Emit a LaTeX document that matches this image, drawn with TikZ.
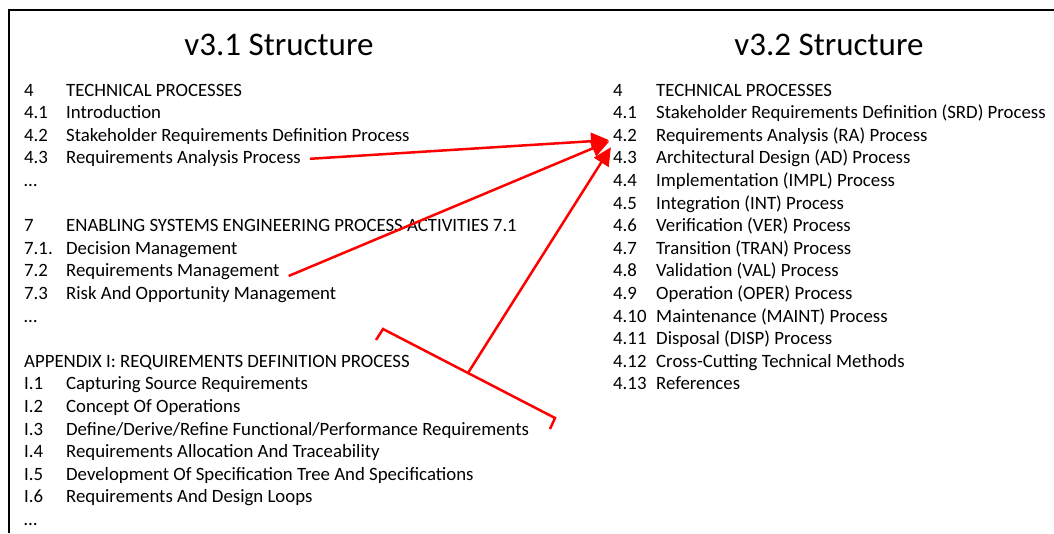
\documentclass[tikz,border=0pt]{standalone}
\usepackage{fontspec}
\setmainfont{Carlito}
\usetikzlibrary{arrows.meta}
\newcommand{\nr}[1]{\makebox[42pt][l]{#1}}
\newcommand{\nrr}[1]{\makebox[43pt][l]{#1}}
\tikzset{
  item/.style={anchor=base west, inner sep=0pt, font=\fontsize{18.8}{22}\selectfont},
  heading/.style={inner sep=0pt, font=\fontsize{33}{40}\selectfont},
  link/.style={red, line width=2.5pt, shorten >=4pt, -{Triangle[length=18pt,width=17pt]}}
}
\begin{document}
\begin{tikzpicture}[x=1pt, y=-1pt]
      \useasboundingbox (0,0) rectangle (1054,533);
      \draw[line width=2pt] (8.5,533) |- (1054,10);
      \node[heading] (t31) at (279,45) {v3.1 Structure};
      \node[heading] (t32) at (829,45) {v3.2 Structure};
      \path (24,96) node[item] (l4) {\nr{4}TECHNICAL PROCESSES}
            (24,118.6) node[item] (l41) {\nr{4.1}Introduction}
            (24,141.2) node[item] (l42) {\nr{4.2}Stakeholder Requirements Definition Process}
            (24,163.8) node[item] (l43) {\nr{4.3}Requirements Analysis Process}
            (24,186.4) node[item] (ld1) {\dots}
            (24,231.6) node[item] (l7) {\nr{7}ENABLING SYSTEMS ENGINEERING PROCESS ACTIVITIES 7.1}
            (24,254.2) node[item] (l71) {\nr{7.1.}Decision Management}
            (24,276.8) node[item] (l72) {\nr{7.2}Requirements Management}
            (24,299.4) node[item] (l73) {\nr{7.3}Risk And Opportunity Management}
            (24,322) node[item] (ld2) {\dots}
            (24,367.2) node[item] (lapp) {APPENDIX I: REQUIREMENTS DEFINITION PROCESS}
            (24,389.8) node[item] (li1) {\nr{I.1}Capturing Source Requirements}
            (24,412.4) node[item] (li2) {\nr{I.2}Concept Of Operations}
            (24,435) node[item] (li3) {\nr{I.3}Define/Derive/Refine Functional/Performance Requirements}
            (24,457.6) node[item] (li4) {\nr{I.4}Requirements Allocation And Traceability}
            (24,480.2) node[item] (li5) {\nr{I.5}Development Of Specification Tree And Specifications}
            (24,502.8) node[item] (li6) {\nr{I.6}Requirements And Design Loops}
            (24,525.4) node[item] (ld3) {\dots};
      \path (613,96) node[item] (r4) {\nrr{4}TECHNICAL PROCESSES}
            (613,118.6) node[item] (r41) {\nrr{4.1}Stakeholder Requirements Definition (SRD) Process}
            (613,141.2) node[item] (r42) {\nrr{4.2}Requirements Analysis (RA) Process}
            (613,163.8) node[item] (r43) {\nrr{4.3}Architectural Design (AD) Process}
            (613,186.4) node[item] (r44) {\nrr{4.4}Implementation (IMPL) Process}
            (613,209) node[item] (r45) {\nrr{4.5}Integration (INT) Process}
            (613,231.6) node[item] (r46) {\nrr{4.6}Verification (VER) Process}
            (613,254.2) node[item] (r47) {\nrr{4.7}Transition (TRAN) Process}
            (613,276.8) node[item] (r48) {\nrr{4.8}Validation (VAL) Process}
            (613,299.4) node[item] (r49) {\nrr{4.9}Operation (OPER) Process}
            (613,322) node[item] (r410) {\nrr{4.10}Maintenance (MAINT) Process}
            (613,344.6) node[item] (r411) {\nrr{4.11}Disposal (DISP) Process}
            (613,367.2) node[item] (r412) {\nrr{4.12}Cross-Cutting Technical Methods}
            (613,389.8) node[item] (r413) {\nrr{4.13}References};
      \draw[red, line width=2.5pt] (376,340) -- (383,329) -- (555,418) -- (550,429);
      \coordinate (brk) at (468,373);
      \draw[link] ([xshift=9pt]l43.east) -- ([yshift=-4pt]r42.west);
      \draw[link] ([xshift=9pt, yshift=-4pt]l72.east) -- ([yshift=-4pt]r42.west);
      \draw[link] (brk) -- ([yshift=-8pt]r42.west);
\end{tikzpicture}
\end{document}
